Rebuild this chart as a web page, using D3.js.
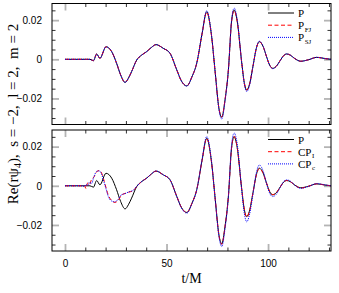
<!DOCTYPE html>
<html>
<head>
<meta charset="utf-8">
<script src="https://cdn.jsdelivr.net/npm/d3@7"></script>
<style>
  body { margin: 0; background: #fff; }
  .tick text { font-family: "Liberation Sans", Arial, sans-serif; font-size: 10px; fill: #000; }
  .serif { font-family: "Liberation Serif", "Times New Roman", serif; }
</style>
</head>
<body>
<div id="chart"></div>
<script>
// time samples (t/M) for the P curves
let tP = [0, 5, 10, 12.3, 14, 15.6, 17.2, 20.2, 23, 25.4,
    27.4, 29.6, 31.2, 32.8, 35.3, 37.8, 40.2, 42.5, 44.8, 48.4,
    51.7, 55, 57.4, 60, 62.5, 64.9, 67.5, 69.8, 72, 74,
    75.8, 77.2, 78.8, 80.5, 82, 83.3, 84.8, 87, 88.3, 89.5,
    90.8, 92.6, 94.2, 95.7, 97.5, 99.3, 100.8, 102.3, 104, 106,
    107.7, 109.2, 111, 113, 116.1, 120, 124, 128, 131];

let vP = [0, 0, 0, 0, -0.0007, 0.0027, 0.0005, 0.0064, 0.0039, -0.002,
    -0.008, -0.0118, -0.0097, -0.0063, -0.0004, 0.0022, 0.0039, 0.006, 0.0075, 0.0056,
    0.0031, -0.0053, -0.0112, -0.0136, -0.009, -0.0019, 0.013, 0.0243, 0.0134, -0.007,
    -0.025, -0.0296, -0.0208, -0.005, 0.019, 0.0251, 0.0195, -0.0014, -0.012, -0.0157,
    -0.013, -0.0034, 0.0055, 0.009, 0.0067, 0.0012, -0.003, -0.0046, -0.0036, -0.0006,
    0.0019, 0.0027, 0.0021, 0.0005, -0.001, -0.0002, 0.001, 0.0004, 0];

let vPFJ = [0, 0, 0, 0, -0.0007, 0.0027, 0.0005, 0.0064, 0.0039, -0.002,
    -0.008, -0.0118, -0.0097, -0.0063, -0.0004, 0.0022, 0.0039, 0.006, 0.0075, 0.0056,
    0.0031, -0.0053, -0.0112, -0.0135, -0.009, -0.0019, 0.013, 0.0241, 0.0134, -0.007,
    -0.0249, -0.0294, -0.0207, -0.005, 0.019, 0.0249, 0.0195, -0.0014, -0.012, -0.0157,
    -0.013, -0.0034, 0.0055, 0.009, 0.0067, 0.0012, -0.003, -0.0046, -0.0036, -0.0006,
    0.0019, 0.0027, 0.0021, 0.0005, -0.001, -0.0002, 0.001, 0.0004, 0];

let vPSJ = [0, 0, 0, 0, -0.0007, 0.0027, 0.0005, 0.0064, 0.0039, -0.002,
    -0.008, -0.0118, -0.0097, -0.0063, -0.0004, 0.0022, 0.0039, 0.006, 0.0075, 0.0056,
    0.0031, -0.0053, -0.0112, -0.0137, -0.009, -0.0019, 0.0132, 0.0248, 0.0138, -0.007,
    -0.0256, -0.0305, -0.0215, -0.005, 0.0196, 0.0262, 0.0205, -0.0014, -0.0125, -0.0165,
    -0.0137, -0.0036, 0.0056, 0.0093, 0.0069, 0.0012, -0.0031, -0.0048, -0.0037, -0.0006,
    0.0019, 0.0028, 0.0021, 0.0005, -0.001, -0.0002, 0.001, 0.0004, 0];

// time samples for the CP curves (denser at early times)
let tCP = [0, 5, 8, 9.5, 10.3, 11.2, 12, 13.1, 14.3, 15.6,
    16.9, 18, 18.9, 20, 21.3, 23, 24.6, 26.2, 27.9, 29.6,
    31.2, 33.7, 35.3, 37.8, 40.2, 42.5, 44.8, 48.4, 51.7, 55,
    57.4, 60, 62.5, 64.9, 67.5, 69.8, 72, 74, 75.8, 77.2,
    78.8, 80.5, 82, 83.3, 84.8, 87, 88.3, 89.5, 90.8, 92.6,
    94.2, 95.7, 97.5, 99.3, 100.8, 102.3, 104, 106, 107.7, 109.2,
    111, 113, 116.1, 120, 124, 128, 131];

let vCPI = [0, 0, 0, 0.0004, -0.0014, 0.0015, 0.0006, 0.0033, 0.0045, 0.0072,
    0.0078, 0.0066, 0.0038, -0.0002, -0.0047, -0.0075, -0.0085, -0.0074, -0.0047, -0.0039,
    -0.0033, -0.0024, -0.0004, 0.0022, 0.0039, 0.006, 0.0075, 0.0056, 0.0031, -0.0053,
    -0.0112, -0.0137, -0.009, -0.0019, 0.013, 0.0243, 0.0134, -0.007, -0.0252, -0.0299,
    -0.021, -0.005, 0.019, 0.0252, 0.0196, -0.0014, -0.0121, -0.016, -0.0132, -0.0034,
    0.0055, 0.0088, 0.0066, 0.0012, -0.003, -0.0045, -0.0036, -0.0006, 0.0019, 0.0027,
    0.0021, 0.0005, -0.0012, -0.0002, 0.001, 0.0004, 0];

let vCPc = [0, 0, 0, -0.0003, 0.0006, 0.0002, 0.0018, 0.0012, 0.0048, 0.0074,
    0.0076, 0.006, 0.003, -0.0008, -0.0054, -0.0078, -0.0082, -0.0068, -0.0045, -0.004,
    -0.0032, -0.0022, -0.0003, 0.0022, 0.0039, 0.006, 0.0076, 0.0056, 0.0031, -0.0054,
    -0.0114, -0.014, -0.0092, -0.002, 0.0134, 0.0252, 0.014, -0.0072, -0.0258, -0.031,
    -0.022, -0.0052, 0.0205, 0.027, 0.0215, -0.002, -0.014, -0.0184, -0.015, -0.004,
    0.0065, 0.0106, 0.0078, 0.001, -0.0038, -0.0055, -0.0044, -0.0008, 0.0022, 0.003,
    0.0024, 0.0004, -0.0013, -0.0003, 0.0011, 0.0005, 0];

let xTicksMajor = [0, 50, 100];
let yTicksMajor = [-0.02, 0, 0.02];
let yTickLabels = ['\u22120.02', '0', '0.02'];

let svgWidth = 339;
let svgHeight = 293;

let margin = { left: 52, right: 8, top: 3.5 };
let width = svgWidth - margin.left - margin.right;
let panelHeight = 121;
let panelGap = 5.5;

let svg = d3.select('#chart')
    .append('svg')
    .attr('width', svgWidth)
    .attr('height', svgHeight);

let xScale = d3.scaleLinear()
    .domain([-6.4, 131])
    .range([0, width]);

let yScale = d3.scaleLinear()
    .domain([-0.0333, 0.0285])
    .range([panelHeight, 0]);

let xMinor = d3.range(0, 131, 10).filter(d => xTicksMajor.indexOf(d) < 0);
let yMinor = d3.range(-0.03, 0.0286, 0.005).filter(d => Math.abs(d) > 1e-9 && Math.abs(Math.abs(d) - 0.02) > 1e-9);

let line = d3.line()
    .x(d => xScale(d[0]))
    .y(d => yScale(d[1]))
    .curve(d3.curveMonotoneX);

function styleTicks(g, color, widthPx) {
    g.select('.domain').remove();
    g.selectAll('.tick line').attr('stroke', color).attr('stroke-width', widthPx);
}

function drawPanel(top, series, legend, showXLabels, id) {
    let g = svg.append('g')
        .attr('transform', `translate(${margin.left}, ${top})`);

    g.append('clipPath').attr('id', 'clip' + id)
        .append('rect').attr('width', width).attr('height', panelHeight);

    // minor ticks on all four sides
    let axes = [
        [d3.axisBottom(xScale).tickValues(xMinor), `translate(0, ${panelHeight})`],
        [d3.axisTop(xScale).tickValues(xMinor), 'translate(0, 0)'],
        [d3.axisLeft(yScale).tickValues(yMinor), 'translate(0, 0)'],
        [d3.axisRight(yScale).tickValues(yMinor), `translate(${width}, 0)`]
    ];
    axes.forEach(a => {
        let ax = g.append('g').attr('transform', a[1])
            .call(a[0].tickSizeInner(-3.5).tickSizeOuter(0).tickFormat(''));
        styleTicks(ax, '#333', 1);
    });

    // major ticks (grey, longer)
    let majors = [
        [d3.axisBottom(xScale).tickValues(xTicksMajor), `translate(0, ${panelHeight})`, showXLabels],
        [d3.axisTop(xScale).tickValues(xTicksMajor), 'translate(0, 0)', false],
        [d3.axisLeft(yScale).tickValues(yTicksMajor), 'translate(0, 0)', true],
        [d3.axisRight(yScale).tickValues(yTicksMajor), `translate(${width}, 0)`, false]
    ];
    majors.forEach((a, i) => {
        let ax = a[0].tickSizeInner(-7).tickSizeOuter(0);
        if (!a[2]) {
            ax.tickFormat('');
        } else if (i === 2) {
            ax.tickFormat((d, k) => yTickLabels[k]).tickPadding(10);
        } else {
            ax.tickPadding(9);
        }
        let axg = g.append('g').attr('transform', a[1]).call(ax);
        styleTicks(axg, '#b4b4b4', 1.8);
    });

    // curves
    series.forEach(s => {
        g.append('path')
            .datum(s.t.map((t, i) => [t, s.v[i]]))
            .attr('clip-path', `url(#clip${id})`)
            .attr('fill', 'none')
            .attr('stroke', s.color)
            .attr('stroke-width', s.w)
            .attr('stroke-dasharray', s.dash)
            .attr('d', line);
    });

    // frame
    g.append('rect')
        .attr('width', width)
        .attr('height', panelHeight)
        .attr('fill', 'none')
        .attr('stroke', '#000')
        .attr('stroke-width', 1);

    // legend (subscripts as their own text so rows stay compact)
    legend.forEach((item, i) => {
        let ly = 9.5 + i * 12.2;
        g.append('line')
            .attr('x1', 216).attr('x2', 242)
            .attr('y1', ly).attr('y2', ly)
            .attr('stroke', series[i].color)
            .attr('stroke-width', series[i].w)
            .attr('stroke-dasharray', series[i].dash);
        let txt = g.append('text')
            .attr('class', 'serif')
            .attr('x', 246)
            .attr('y', ly + 4)
            .attr('font-size', 11)
            .text(item[0]);
        if (item[1]) {
            let w = txt.node().getComputedTextLength();
            g.append('text')
                .attr('class', 'serif')
                .attr('x', 246 + w + 0.6)
                .attr('y', ly + 6.3)
                .attr('font-size', 7)
                .text(item[1]);
        }
    });
}

drawPanel(margin.top, [
    { t: tP, v: vP, color: '#000', w: 1, dash: null },
    { t: tP, v: vPFJ, color: '#ff0000', w: 1, dash: '4,2.5' },
    { t: tP, v: vPSJ, color: '#0000ff', w: 1, dash: '1,1' }
], [['P', ''], ['P', 'FJ'], ['P', 'SJ']], false, 1);

drawPanel(margin.top + panelHeight + panelGap, [
    { t: tP, v: vP, color: '#000', w: 1, dash: null },
    { t: tCP, v: vCPI, color: '#ff0000', w: 1, dash: '4,2.5' },
    { t: tCP, v: vCPc, color: '#0000ff', w: 1, dash: '1,1' }
], [['P', ''], ['CP', 'I'], ['CP', 'c']], true, 2);

// axis titles
svg.append('text')
    .attr('class', 'serif')
    .attr('x', margin.left + width / 2)
    .attr('y', 283)
    .attr('text-anchor', 'middle')
    .attr('font-size', 14)
    .text('t/M');

let yTitle = svg.append('text')
    .attr('class', 'serif')
    .attr('transform', 'rotate(-90)')
    .attr('x', -114)
    .attr('y', 18)
    .attr('text-anchor', 'middle')
    .attr('font-size', 15);
yTitle.append('tspan').text('Re(r\u03C8');
yTitle.append('tspan').attr('font-size', 10).attr('dy', 3).text('4');
yTitle.append('tspan').attr('dy', -3).text(')');
yTitle.append('tspan').attr('xml:space', 'preserve').text(',  s = \u22122,  l = 2,  m = 2');
</script>
</body>
</html>
